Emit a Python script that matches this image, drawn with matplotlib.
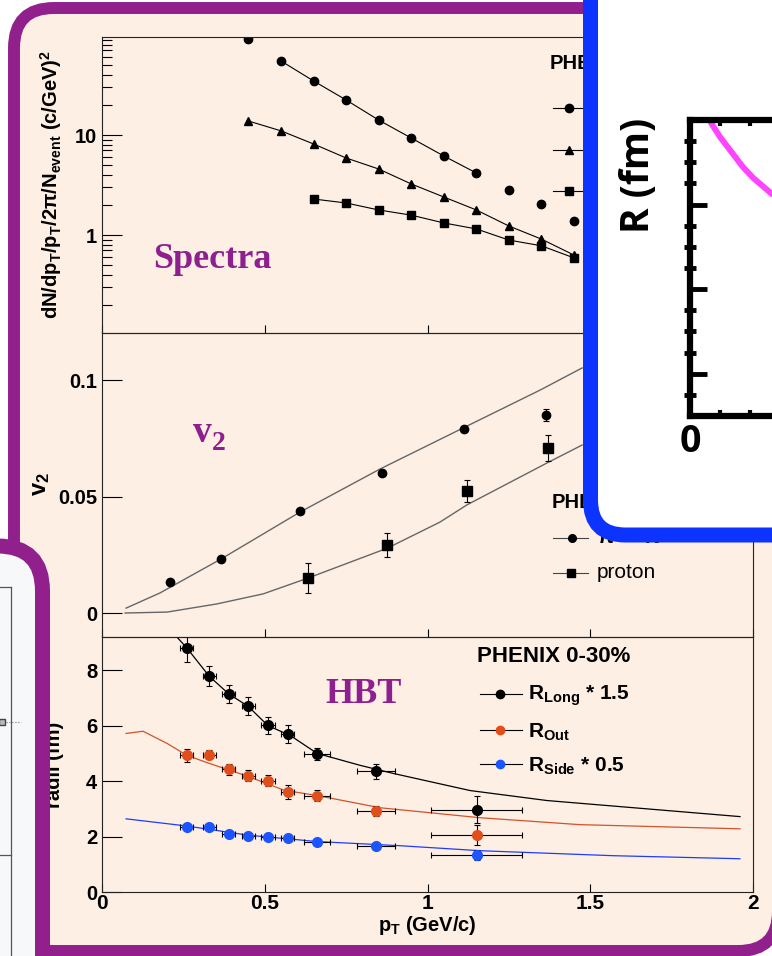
import matplotlib.pyplot as plt
from matplotlib.patches import FancyBboxPatch
from matplotlib.ticker import FixedLocator, LogLocator, NullFormatter, FuncFormatter

plt.rcParams['font.family'] = ['Liberation Sans', 'DejaVu Sans']
plt.rcParams['font.weight'] = 'bold'
plt.rcParams['axes.labelweight'] = 'bold'
plt.rcParams['mathtext.fontset'] = 'custom'
plt.rcParams['mathtext.rm'] = 'Liberation Sans'
plt.rcParams['mathtext.bf'] = 'Liberation Sans:bold'
plt.rcParams['mathtext.default'] = 'bf'

# ---- spectra (pT in GeV/c) ----
spec_pt = [0.45, 0.55, 0.65, 0.75, 0.85, 0.95, 1.05, 1.15, 1.25, 1.35, 1.45]
spec_pion = [90.6, 55.0, 34.7, 22.4, 14.1, 9.33, 6.17, 4.17, 2.82, 2.04, 1.38]
spec_kaon = [13.8, 11.0, 8.13, 5.89, 4.57, 3.24, 2.40, 1.78, 1.23, 0.91, 0.63]
spec_pt_p = [0.65, 0.75, 0.85, 0.95, 1.05, 1.15, 1.25, 1.35, 1.45]
spec_proton = [2.29, 2.09, 1.78, 1.58, 1.32, 1.15, 0.89, 0.78, 0.59]

# ---- v2 ----
v2_pt_pi = [0.21, 0.366, 0.608, 0.86, 1.112, 1.364]
v2_pion = [0.0133, 0.0232, 0.0438, 0.0601, 0.0790, 0.0850]
v2_pion_err = [0, 0, 0, 0, 0.0012, 0.0026]
v2_pt_p = [0.633, 0.876, 1.121, 1.37]
v2_proton = [0.0150, 0.0292, 0.0524, 0.0708]
v2_proton_err = [0.0063, 0.0052, 0.0049, 0.0057]
hydro_pi_pt = [0.074, 0.178, 0.366, 0.608, 0.854, 1.109, 1.346, 1.475]
hydro_pi_v2 = [0.0021, 0.0086, 0.0232, 0.0433, 0.0618, 0.0794, 0.0957, 0.1052]
hydro_p_pt = [0.071, 0.2, 0.353, 0.495, 0.633, 0.876, 1.038, 1.121, 1.367, 1.475]
hydro_p_v2 = [0.0, 0.0004, 0.0039, 0.0082, 0.015, 0.0278, 0.039, 0.0464, 0.0644, 0.0721]

# ---- HBT radii ----
hbt_pt = [0.261, 0.329, 0.390, 0.449, 0.510, 0.571, 0.661, 0.841, 1.151]
hbt_pt_err = [0.02, 0.02, 0.02, 0.02, 0.02, 0.02, 0.04, 0.059, 0.14]
r_long = [8.80, 7.79, 7.14, 6.70, 6.01, 5.69, 4.99, 4.35, 2.97]
r_long_err = [0.5, 0.35, 0.33, 0.32, 0.31, 0.32, 0.21, 0.26, 0.48]
r_out = [4.93, 4.96, 4.42, 4.20, 4.02, 3.62, 3.48, 2.93, 2.07]
r_out_err = [0.24, 0.17, 0.2, 0.2, 0.2, 0.25, 0.2, 0.18, 0.36]
r_side = [2.36, 2.36, 2.10, 2.02, 1.99, 1.94, 1.81, 1.67, 1.34]
r_side_err = [0.08, 0.08, 0.08, 0.07, 0.07, 0.07, 0.06, 0.06, 0.19]
long_curve_pt = [0.23, 0.261, 0.329, 0.39, 0.449, 0.51, 0.578, 0.661, 0.793, 0.894, 1.131, 1.367, 1.674, 1.96]
long_curve = [9.2, 8.80, 7.79, 7.14, 6.70, 6.0, 5.65, 5.0, 4.57, 4.28, 3.66, 3.30, 3.0, 2.72]
out_curve_pt = [0.074, 0.126, 0.2, 0.261, 0.322, 0.449, 0.56, 0.661, 0.854, 1.161, 1.468, 1.96]
out_curve = [5.72, 5.80, 5.36, 4.93, 4.67, 4.17, 3.67, 3.48, 3.04, 2.68, 2.43, 2.28]
side_curve_pt = [0.074, 0.261, 0.449, 0.661, 0.916, 1.161, 1.57, 1.96]
side_curve = [2.64, 2.38, 2.05, 1.82, 1.67, 1.49, 1.31, 1.20]

# ---- R(t) sketch in the blue inset ----
rt_x = [0.65, 0.73, 1.0, 1.43, 1.75, 2.1, 2.73, 3.2]
rt_y = [14.0, 13.8, 13.2, 12.4, 11.8, 11.27, 10.5, 10.0]

PURPLE = '#91208d'
TXT_PURPLE = '#8e1f8e'
BLUE = '#0d33ff'
CREAM = '#fdefe4'
ORANGE = '#e04e1b'
SKY = '#1c55ff'

W, H = 772, 956
fig = plt.figure(figsize=(W / 100, H / 100), dpi=100)
fig.patch.set_facecolor('white')


def box(x0, y0, x1, y1):
    return [x0 / W, 1 - y1 / H, (x1 - x0) / W, (y1 - y0) / H]


# background layer in pixel coordinates
bg = fig.add_axes([0, 0, 1, 1], zorder=0)
bg.set_xlim(0, W)
bg.set_ylim(H, 0)
bg.axis('off')
bg.add_patch(FancyBboxPatch((14, 8), 764, 943, boxstyle='round,pad=0,rounding_size=40',
                            fc=CREAM, ec=PURPLE, lw=8.6))


def frame(ax):
    ax.set_facecolor('none')
    for s in ax.spines.values():
        s.set_color('#222222')
        s.set_linewidth(0.8)
    ax.set_xlim(0, 2)
    ax.xaxis.set_major_locator(FixedLocator([0, 0.5, 1, 1.5, 2]))
    ax.tick_params(axis='x', direction='in', length=6, width=0.8, top=False, labelbottom=False)
    ax.tick_params(axis='y', which='major', direction='in', length=14.5, width=0.8,
                   labelsize=14.5, pad=3.5, right=False)
    ax.yaxis.set_major_formatter(FuncFormatter(lambda v, p: f'{v:g}'))


# spectra
ax1 = fig.add_axes(box(102, 37, 753, 333), zorder=1)
frame(ax1)
ax1.set_yscale('log')
ax1.set_ylim(10 ** -0.98, 10 ** 1.98)
ax1.yaxis.set_major_locator(FixedLocator([1, 10]))
ax1.yaxis.set_major_formatter(FuncFormatter(lambda v, p: f'{v:g}'))
ax1.yaxis.set_minor_locator(LogLocator(base=10, subs=range(2, 10)))
ax1.yaxis.set_minor_formatter(NullFormatter())
ax1.tick_params(axis='y', which='minor', direction='in', length=7.5, width=0.8, right=False)
ax1.plot(spec_pt[1:8], spec_pion[1:8], color='black', lw=0.8)
ax1.plot(spec_pt, spec_pion, 'o', color='black', ms=6)
ax1.plot(spec_pt, spec_kaon, '-^', color='black', lw=0.8, ms=6)
ax1.plot(spec_pt_p, spec_proton, '-s', color='black', lw=0.8, ms=6)

# v2
ax2 = fig.add_axes(box(102, 333, 753, 637), zorder=1)
frame(ax2)
ax2.set_ylim(-0.0103, 0.1202)
ax2.yaxis.set_major_locator(FixedLocator([0, 0.05, 0.1]))
ax2.plot(hydro_pi_pt, hydro_pi_v2, color='#666666', lw=1.0)
ax2.plot(hydro_p_pt, hydro_p_v2, color='#666666', lw=1.0)
ax2.errorbar(v2_pt_pi, v2_pion, yerr=v2_pion_err, fmt='o', color='black', ms=6,
             elinewidth=0.8, capsize=2.5, capthick=0.8)
ax2.errorbar(v2_pt_p, v2_proton, yerr=v2_proton_err, fmt='s', color='black', ms=6.5,
             elinewidth=0.8, capsize=2.5, capthick=0.8)

# HBT radii
ax3 = fig.add_axes(box(102, 637, 753, 892), zorder=1)
frame(ax3)
ax3.set_ylim(0, 9.2)
ax3.yaxis.set_major_locator(FixedLocator([0, 2, 4, 6, 8]))
ax3.xaxis.set_major_formatter(FuncFormatter(lambda v, p: f'{v:g}'))
ax3.tick_params(axis='x', labelbottom=True, labelsize=15, pad=1.5)
ax3.plot(long_curve_pt, long_curve, color='black', lw=0.9)
ax3.plot(out_curve_pt, out_curve, color='#d2522a', lw=0.9)
ax3.plot(side_curve_pt, side_curve, color='#1e3cff', lw=0.9)
for vals, errs, col in [(r_long, r_long_err, 'black'), (r_out, r_out_err, ORANGE),
                        (r_side, r_side_err, SKY)]:
    ax3.errorbar(hbt_pt, vals, xerr=hbt_pt_err, yerr=errs, fmt='o', color=col, ecolor='black',
                 ms=7, elinewidth=0.8, capsize=2, capthick=0.8)
ax3.set_ylabel('radii (fm)', fontsize=14.5, fontweight='bold')
ax3.yaxis.set_label_coords((54 - 102) / 651, 0.5)
ax3.yaxis.label.set_verticalalignment('center')
ax3.set_xlabel(r'p$_{T}$ (GeV/c)', fontsize=14.5, fontweight='bold', labelpad=1)

# axis titles and panel names
bg.text(51, 185, r'dN/dp$_{T}$/p$_{T}$/2$\pi$/N$_{event}$ (c/GeV)$^{2}$', rotation=90,
        ha='center', va='center', fontsize=14.5)
bg.text(41, 484, r'v$_{2}$', rotation=90, ha='center', va='center', fontsize=17)
bg.text(153, 268, 'Spectra', family='Liberation Serif', fontsize=26, color=TXT_PURPLE, va='baseline')
bg.text(193, 442, 'v', family='Liberation Serif', fontsize=27, color=TXT_PURPLE, va='baseline')
bg.text(212, 450, '2', family='Liberation Serif', fontsize=20, color=TXT_PURPLE, va='baseline')
bg.text(325, 703, 'HBT', family='Liberation Serif', fontsize=26, color=TXT_PURPLE, va='baseline')

# spectra legend
bg.text(550, 63, 'PHENIX', fontsize=14.5, va='center')
for yy, mk in [(108, 'o'), (150, '^'), (191, 's')]:
    bg.plot([553, 600], [yy, yy], color='black', lw=0.8)
    bg.plot([569], [yy], mk, color='black', ms=6)

# v2 legend
bg.text(552, 502, 'PHENIX', fontsize=14.5, va='center')
bg.plot([553, 588], [538, 538], color='#444444', lw=0.8)
bg.plot([572], [538], 'o', color='black', ms=5.5)
bg.text(597, 538, r'$\rm\pi^{+}+\pi^{-}$', fontsize=15, va='center', weight='normal')
bg.plot([553, 588], [573, 573], color='#444444', lw=0.8)
bg.plot([571], [573], 's', color='black', ms=6)
bg.text(597, 573, 'proton', fontsize=15, va='center', weight='normal')

# HBT legend
bg.text(477, 657, 'PHENIX 0-30%', fontsize=16, va='center')
for yy, col, lab in [(694, 'black', r'$\rm R_{Long}$ * 1.5'), (730, ORANGE, r'$\rm R_{Out}$'),
                     (764, SKY, r'$\rm R_{Side}$ * 0.5')]:
    bg.plot([480, 522], [yy, yy], color='black', lw=0.8)
    bg.plot([500], [yy], 'o', color=col, ms=6)
    bg.text(528, yy + 2, lab, fontsize=15, va='center')

# foreground frames
fg = fig.add_axes([0, 0, 1, 1], zorder=3)
fg.set_xlim(0, W)
fg.set_ylim(H, 0)
fg.axis('off')
fg.add_patch(FancyBboxPatch((590.5, -100), 500, 635, boxstyle='round,pad=0,rounding_size=35',
                            fc='white', ec=BLUE, lw=10.8))
fg.add_patch(FancyBboxPatch((-200, 546), 242.5, 600, boxstyle='round,pad=0,rounding_size=45',
                            fc='#f6f8fa', ec=PURPLE, lw=10.8))
fg.plot([11, 11], [587, 960], color='#555555', lw=0.9)
fg.plot([0, 11], [587, 587], color='#555555', lw=0.9)
fg.plot([0, 11], [855, 855], color='#555555', lw=0.9)
fg.plot([6, 21], [722, 722], color='#777777', lw=0.8, ls=':')
fg.plot([2], [722], 's', color='#444444', mfc='#bbbbbb', ms=5)

# R(t) inset
axR = fig.add_axes(box(690, 120, 1000, 416), zorder=4)
axR.set_facecolor('none')
axR.set_xlim(0, 310 / 30)
axR.set_ylim(0, 14)
for s in axR.spines.values():
    s.set_linewidth(4.5)
    s.set_color('black')
axR.yaxis.set_major_locator(FixedLocator([2, 6, 10]))
axR.yaxis.set_minor_locator(FixedLocator([1, 3, 4, 5, 7, 8, 9, 11, 12, 13]))
axR.yaxis.set_major_formatter(NullFormatter())
axR.tick_params(axis='y', which='major', direction='in', length=12, width=3.5)
axR.tick_params(axis='y', which='minor', direction='inout', length=8, width=3.5)
axR.xaxis.set_major_locator(FixedLocator([]))
axR.xaxis.set_minor_locator(FixedLocator(list(range(1, 11))))
axR.tick_params(axis='x', which='minor', direction='in', length=4, width=3, top=True, bottom=True)
axR.plot(rt_x, rt_y, color='#ff44ff', lw=4.3, solid_capstyle='butt')
axR.text(0, -1.25, '0', ha='center', va='center', fontsize=27, family='Open Sans',
         weight='bold', clip_on=False)
axR.text(-1.73, 11.37, 'R (fm)', rotation=90, ha='center', va='center', fontsize=28,
         family='Open Sans', weight='bold', clip_on=False)

fig.savefig('out.png', dpi=100)
